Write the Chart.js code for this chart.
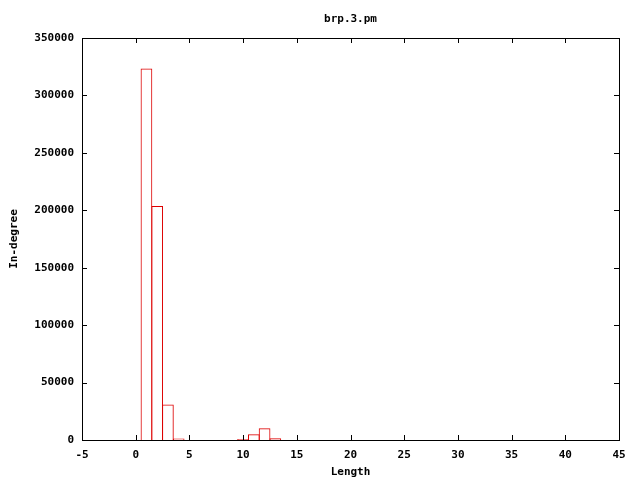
<!DOCTYPE html>
<html>
<head>
<meta charset="utf-8">
<script src="https://cdn.jsdelivr.net/npm/chart.js@4/dist/chart.umd.min.js"></script>
<style>
  html, body { margin: 0; padding: 0; background: #fff; }
  #wrap { width: 640px; height: 480px; }
</style>
</head>
<body>
<div id="wrap"><canvas id="c" width="640" height="480"></canvas></div>
<script>
// ── data ────────────────────────────────────────────────────────────────────
const lengths  = [1, 2, 3, 4, 10, 11, 12, 13];
const inDegree = [323400, 203800, 31000, 1200, 900, 5000, 10200, 1500];

const titleText = 'brp.3.pm';
const xTitle    = 'Length';
const yTitle    = 'In-degree';

const FONT = '"DejaVu Sans Mono", "Liberation Mono", monospace';

// gnuplot-style frame, inward ticks on all four sides, and titles
const gnuFrame = {
  id: 'gnuFrame',
  afterDraw(chart) {
    const { ctx, chartArea: a, scales: { x, y } } = chart;
    ctx.save();
    ctx.strokeStyle = '#000';
    ctx.lineWidth = 1;
    ctx.strokeRect(Math.round(a.left) + 0.5, Math.round(a.top) + 0.5,
                   Math.round(a.right - a.left), Math.round(a.bottom - a.top));
    const tl = 5;
    ctx.beginPath();
    x.ticks.forEach(t => {
      const px = Math.round(x.getPixelForValue(t.value)) + 0.5;
      ctx.moveTo(px, a.bottom); ctx.lineTo(px, a.bottom - tl);
      ctx.moveTo(px, a.top);    ctx.lineTo(px, a.top + tl);
    });
    y.ticks.forEach(t => {
      const py = Math.round(y.getPixelForValue(t.value)) + 0.5;
      ctx.moveTo(a.left, py);  ctx.lineTo(a.left + tl, py);
      ctx.moveTo(a.right, py); ctx.lineTo(a.right - tl, py);
    });
    ctx.stroke();

    ctx.fillStyle = '#000';
    ctx.font = 'bold 11px ' + FONT;
    ctx.textAlign = 'center';
    ctx.textBaseline = 'middle';
    const cx = (a.left + a.right) / 2;
    ctx.fillText(titleText, cx, 19);
    ctx.fillText(xTitle, cx, 472);
    ctx.translate(14, (a.top + a.bottom) / 2);
    ctx.rotate(-Math.PI / 2);
    ctx.fillText(yTitle, 0, 0);
    ctx.restore();
  },
};

new Chart(document.getElementById('c'), {
  type: 'bar',
  data: {
    datasets: [{
      data: lengths.map((v, i) => ({ x: v, y: inDegree[i] })),
      backgroundColor: 'rgba(0,0,0,0)',
      borderColor: '#dd0000',
      borderWidth: 1,
      // slightly over 1 so neighbouring box edges share one line, as in gnuplot
      barPercentage: 1.09,
      categoryPercentage: 1,
    }],
  },
  plugins: [gnuFrame],
  options: {
    responsive: false,
    animation: false,
    events: [],
    layout: { padding: { left: 0, right: 21, top: 38, bottom: 0 } },
    plugins: { legend: { display: false }, tooltip: { enabled: false }, title: { display: false } },
    scales: {
      x: {
        type: 'linear',
        min: -5, max: 45,
        offset: false,
        grid: { display: false, drawTicks: false, offset: false },
        border: { display: false },
        ticks: {
          stepSize: 5, padding: 9, color: '#000',
          font: { family: FONT, size: 11, weight: 'bold' },
          maxRotation: 0, autoSkip: false,
        },
        afterFit(s) { s.height = 40; },
      },
      y: {
        min: 0, max: 350000,
        grid: { display: false, drawTicks: false },
        border: { display: false },
        ticks: {
          stepSize: 50000, padding: 8, color: '#000',
          font: { family: FONT, size: 11, weight: 'bold' },
          callback: v => String(v),
        },
        afterFit(s) { s.width = 82; },
      },
    },
  },
});
</script>
</body>
</html>
